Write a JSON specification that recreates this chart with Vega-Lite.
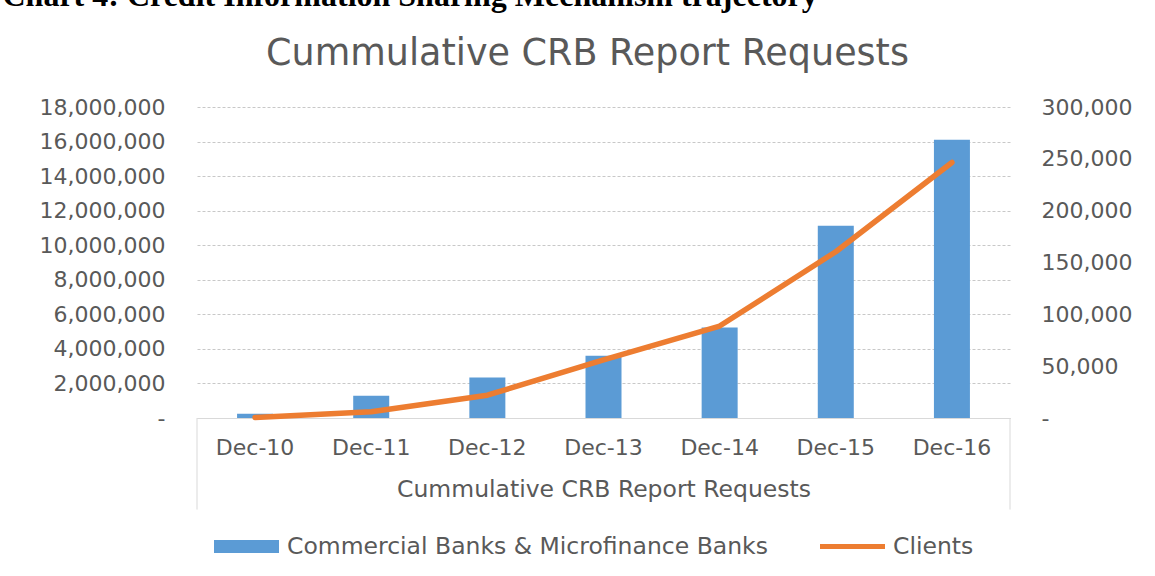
{
  "$schema": "https://vega.github.io/schema/vega-lite/v6.json",
  "width": 813,
  "height": 311,
  "autosize": {"type": "none"},
  "padding": {"left": 197, "top": 107, "right": 145, "bottom": 158},
  "background": "white",
  "config": {"view": {"stroke": null}, "font": "DejaVu Sans"},
  "data": {
    "values": [
      {"month": "Dec-10", "banks": 250000, "clients": 500},
      {"month": "Dec-11", "banks": 1290000, "clients": 6000},
      {"month": "Dec-12", "banks": 2350000, "clients": 22000},
      {"month": "Dec-13", "banks": 3600000, "clients": 56000},
      {"month": "Dec-14", "banks": 5240000, "clients": 88700},
      {"month": "Dec-15", "banks": 11120000, "clients": 160400},
      {"month": "Dec-16", "banks": 16110000, "clients": 246500}
    ]
  },
  "encoding": {
    "x": {
      "field": "month",
      "type": "ordinal",
      "sort": null,
      "scale": {"paddingInner": 0, "paddingOuter": 0},
      "axis": {
        "labelAngle": 0,
        "title": "Cummulative CRB Report Requests",
        "labelFontSize": 22,
        "labelColor": "#595959",
        "labelPadding": 19,
        "titleFontSize": 23.5,
        "titleFontWeight": "normal",
        "titleColor": "#595959",
        "titlePadding": 19,
        "ticks": false,
        "domain": true,
        "domainColor": "#D9D9D9"
      }
    }
  },
  "layer": [
    {
      "mark": {"type": "bar", "width": {"band": 0.31}},
      "encoding": {
        "y": {
          "field": "banks",
          "type": "quantitative",
          "scale": {"domain": [0, 18000000], "nice": false},
          "axis": {
            "values": [0, 2000000, 4000000, 6000000, 8000000, 10000000, 12000000, 14000000, 16000000, 18000000],
            "labelExpr": "datum.value == 0 ? '-' : format(datum.value, ',')",
            "labelFontSize": 22,
            "labelColor": "#595959",
            "labelPadding": 32,
            "domain": false,
            "ticks": false,
            "grid": true,
            "gridColor": "#C8C8C8",
            "gridDash": [3, 2],
            "title": "Chart 4: Credit Information Sharing Mechanism trajectory",
            "titleAngle": 0,
            "titleAlign": "left",
            "titleBaseline": "alphabetic",
            "titleX": -195,
            "titleY": -102,
            "titleFont": "Liberation Serif",
            "titleFontSize": 32,
            "titleFontWeight": "bold",
            "titleColor": "#000000"
          }
        },
        "color": {
          "datum": "Commercial Banks & Microfinance Banks",
          "scale": {
            "domain": ["Commercial Banks & Microfinance Banks", "Clients"],
            "range": ["#5B9BD5", "#ED7D31"]
          },
          "legend": {
            "title": null,
            "orient": "none",
            "direction": "horizontal",
            "legendX": 17,
            "legendY": 407,
            "labelFontSize": 23.5,
            "labelColor": "#595959",
            "labelOffset": 8,
            "labelLimit": 0,
            "columnPadding": 52,
            "symbolSize": 4225,
            "encode": {
              "symbols": {
                "update": {
                  "shape": {"signal": "datum.value === 'Clients' ? 'M-1,-0.08H1V0.08H-1Z' : 'M-1,-0.2H1V0.2H-1Z'"},
                  "fill": {"scale": "color", "field": "value"},
                  "strokeWidth": {"value": 0},
                  "opacity": {"value": 1}
                }
              }
            }
          }
        }
      }
    },
    {
      "mark": {"type": "line", "strokeWidth": 5.5, "strokeCap": "round", "strokeJoin": "round"},
      "encoding": {
        "y": {
          "field": "clients",
          "type": "quantitative",
          "scale": {"domain": [0, 300000], "nice": false},
          "axis": {
            "orient": "right",
            "values": [0, 50000, 100000, 150000, 200000, 250000, 300000],
            "labelExpr": "datum.value == 0 ? '-' : format(datum.value, ',')",
            "labelFontSize": 22,
            "labelColor": "#595959",
            "labelPadding": 31,
            "domain": false,
            "ticks": false,
            "grid": false,
            "title": "Cummulative CRB Report Requests",
            "titleAngle": 0,
            "titleAlign": "center",
            "titleBaseline": "middle",
            "titleX": -423,
            "titleY": -54,
            "titleFontSize": 36.5,
            "titleFontWeight": "normal",
            "titleColor": "#595959"
          }
        },
        "color": {"datum": "Clients"}
      }
    },
    {
      "data": {"values": [{}]},
      "mark": {"type": "rule", "color": "#D9D9D9", "strokeWidth": 1},
      "encoding": {
        "x": {"datum": "Dec-10", "bandPosition": 0},
        "y": {"datum": 0, "scale": {"domain": [0, 18000000], "nice": false}, "axis": null},
        "y2": {"datum": -5300000}
      }
    },
    {
      "data": {"values": [{}]},
      "mark": {"type": "rule", "color": "#D9D9D9", "strokeWidth": 1},
      "encoding": {
        "x": {"datum": "Dec-16", "bandPosition": 1},
        "y": {"datum": 0, "scale": {"domain": [0, 18000000], "nice": false}, "axis": null},
        "y2": {"datum": -5300000}
      }
    }
  ],
  "resolve": {"scale": {"y": "independent"}}
}
